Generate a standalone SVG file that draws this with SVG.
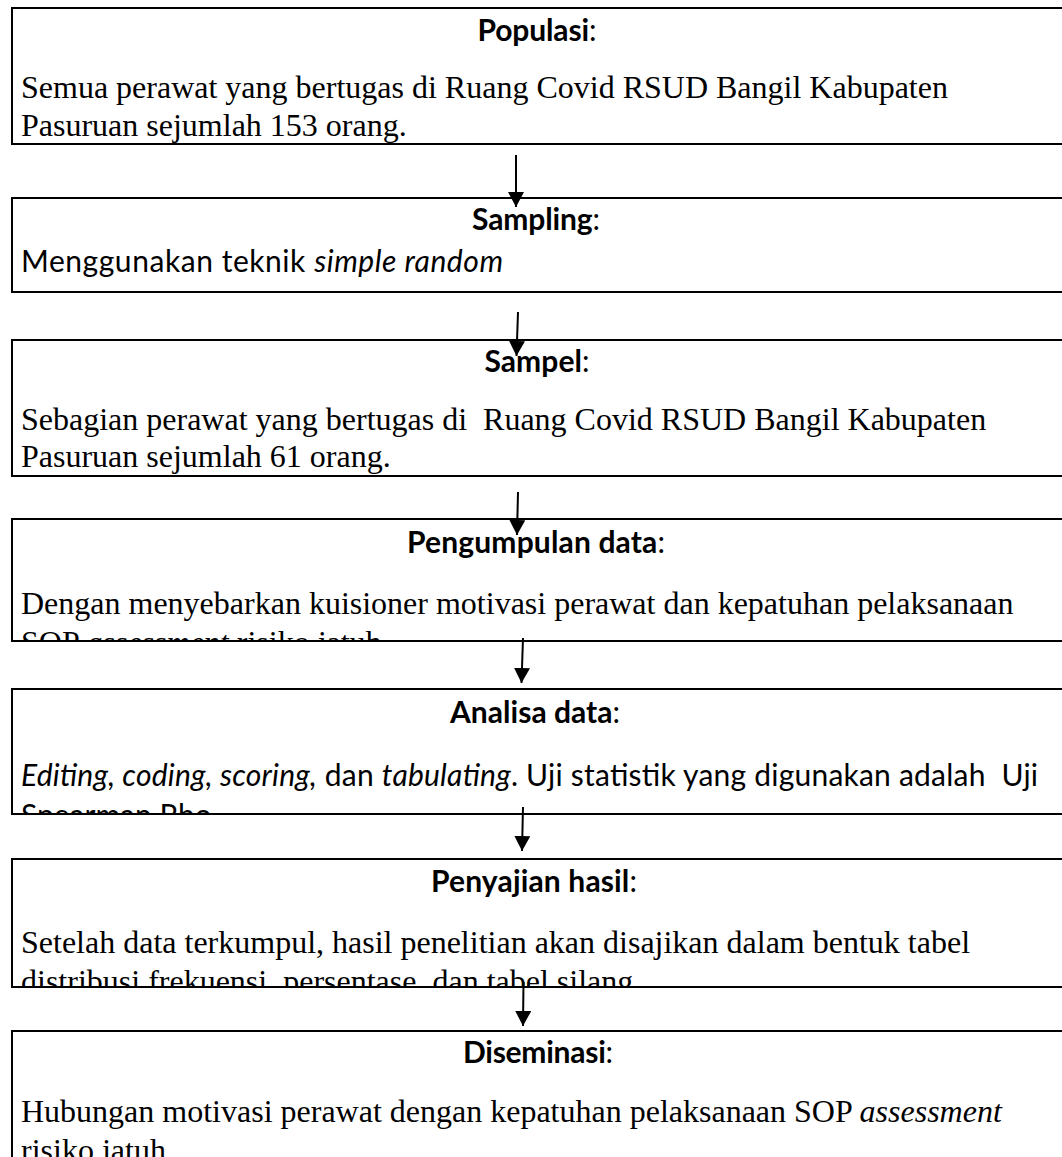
<svg xmlns="http://www.w3.org/2000/svg" width="1062" height="1157" viewBox="0 0 1062 1157">
<style>
.box{fill:#fff;stroke:#000;stroke-width:2}
.t{font-family:Lato,"Open Sans",sans-serif;font-size:30px;font-weight:bold;fill:#000;text-anchor:middle}
.t .c{font-weight:normal}
.s{font-family:"Liberation Serif","Times New Roman",serif;font-size:32px;fill:#000}
.k{font-family:Lato,"Open Sans",sans-serif;font-size:30px;fill:#000}
.i{font-style:italic}
.con{stroke:#000;stroke-width:2;fill:none;marker-end:url(#ah)}
</style>
<defs>
<marker id="ah" markerUnits="userSpaceOnUse" markerWidth="16" markerHeight="16" refX="15" refY="8" orient="auto" viewBox="0 0 16 16">
<path d="M0,0 L15,8 L0,16 z" fill="#000"/>
</marker>
<clipPath id="c1"><rect x="13" y="9" width="1060" height="134"/></clipPath>
<clipPath id="c2"><rect x="13" y="199" width="1060" height="92"/></clipPath>
<clipPath id="c3"><rect x="13" y="341" width="1060" height="134"/></clipPath>
<clipPath id="c4"><rect x="13" y="520" width="1060" height="120"/></clipPath>
<clipPath id="c5"><rect x="13" y="690" width="1060" height="123"/></clipPath>
<clipPath id="c6"><rect x="13" y="860" width="1060" height="126"/></clipPath>
<clipPath id="c7"><rect x="13" y="1032" width="1060" height="200"/></clipPath>
</defs>
<rect width="1062" height="1157" fill="#fff"/>

<g id="populasi">
<rect class="box" x="12" y="8" width="1100" height="136"/>
<g clip-path="url(#c1)">
<text class="t" x="537" y="41" textLength="119">Populasi<tspan class="c">:</tspan></text>
<text class="s" x="21" y="98">Semua perawat yang bertugas di Ruang Covid RSUD Bangil Kabupaten</text>
<text class="s" x="21" y="136">Pasuruan sejumlah 153 orang.</text>
</g>
</g>

<g id="sampling">
<rect class="box" x="12" y="198" width="1100" height="94"/>
<g clip-path="url(#c2)">
<text class="t" x="536" y="230" textLength="128">Sampling<tspan class="c">:</tspan></text>
<text class="k" x="21" y="272" textLength="482">Menggunakan teknik <tspan class="i">simple random</tspan></text>
<text class="k i" x="21" y="314">sampling</text>
</g>
</g>

<g id="sampel">
<rect class="box" x="12" y="340" width="1100" height="136"/>
<g clip-path="url(#c3)">
<text class="t" x="537" y="372" textLength="105">Sampel<tspan class="c">:</tspan></text>
<text class="s" x="21" y="430" xml:space="preserve">Sebagian perawat yang bertugas di  Ruang Covid RSUD Bangil Kabupaten</text>
<text class="s" x="21" y="467">Pasuruan sejumlah 61 orang.</text>
</g>
</g>

<g id="pengumpulan">
<rect class="box" x="12" y="519" width="1100" height="122"/>
<g clip-path="url(#c4)">
<text class="t" x="536" y="553" textLength="258">Pengumpulan data<tspan class="c">:</tspan></text>
<text class="s" x="21" y="614">Dengan menyebarkan kuisioner motivasi perawat dan kepatuhan pelaksanaan</text>
<text class="s" x="21" y="653">SOP <tspan class="i">assessment</tspan> risiko jatuh.</text>
</g>
</g>

<g id="analisa">
<rect class="box" x="12" y="689" width="1100" height="125"/>
<g clip-path="url(#c5)">
<text class="t" x="535" y="723" textLength="170">Analisa data<tspan class="c">:</tspan></text>
<text class="k" x="21" y="786" textLength="1017" xml:space="preserve"><tspan class="i">Editing, coding, scoring,</tspan> dan <tspan class="i">tabulating</tspan>. Uji statistik yang digunakan adalah  Uji</text>
<text class="k" x="21" y="826">Spearman Rho.</text>
</g>
</g>

<g id="penyajian">
<rect class="box" x="12" y="859" width="1100" height="128"/>
<g clip-path="url(#c6)">
<text class="t" x="534" y="892" textLength="206">Penyajian hasil<tspan class="c">:</tspan></text>
<text class="s" x="21" y="953">Setelah data terkumpul, hasil penelitian akan disajikan dalam bentuk tabel</text>
<text class="s" x="21" y="992">distribusi frekuensi, persentase, dan tabel silang.</text>
</g>
</g>

<g id="diseminasi">
<rect class="box" x="12" y="1031" width="1100" height="200"/>
<g clip-path="url(#c7)">
<text class="t" x="538" y="1063" textLength="150">Diseminasi<tspan class="c">:</tspan></text>
<text class="s" x="21" y="1122">Hubungan motivasi perawat dengan kepatuhan pelaksanaan SOP <tspan class="i">assessment</tspan></text>
<text class="s" x="21" y="1161">risiko jatuh.</text>
</g>
</g>

<g id="connectors">
<line class="con" x1="516" y1="155" x2="516" y2="207"/>
<line class="con" x1="518" y1="312" x2="516.5" y2="356"/>
<line class="con" x1="518" y1="492" x2="517" y2="535"/>
<line class="con" x1="523" y1="638" x2="521.5" y2="683"/>
<line class="con" x1="523" y1="807" x2="522" y2="851"/>
<line class="con" x1="523.5" y1="982" x2="523" y2="1026"/>
</g>
</svg>
